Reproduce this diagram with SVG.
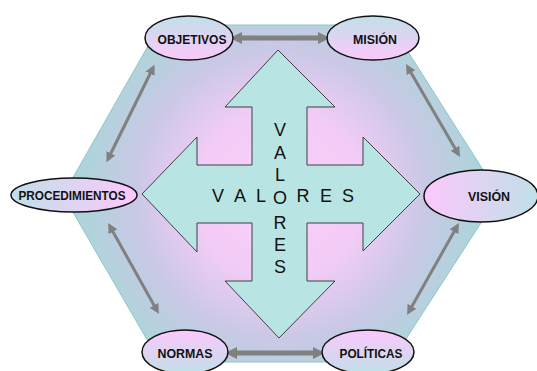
<svg xmlns="http://www.w3.org/2000/svg" width="537" height="371" viewBox="0 0 537 371">
<defs>
<radialGradient id="hexg" cx="280" cy="194" r="240" gradientUnits="userSpaceOnUse">
<stop offset="0" stop-color="#fad0fa"/>
<stop offset="0.35" stop-color="#f2ccf6"/>
<stop offset="0.6" stop-color="#cac8e6"/>
<stop offset="0.82" stop-color="#aed4da"/>
<stop offset="1" stop-color="#98d0d0"/>
</radialGradient>
<linearGradient id="gDown" x1="0" y1="0" x2="0" y2="1"><stop offset="0" stop-color="#c0e0e8"/><stop offset="1" stop-color="#fcc8fc"/></linearGradient>
<linearGradient id="gUp" x1="0" y1="1" x2="0" y2="0"><stop offset="0" stop-color="#c0e0e8"/><stop offset="1" stop-color="#fcc8fc"/></linearGradient>
<linearGradient id="gRight" x1="0" y1="0" x2="1" y2="0"><stop offset="0" stop-color="#c0e0e8"/><stop offset="1" stop-color="#fcc8fc"/></linearGradient>
<linearGradient id="gLeft" x1="1" y1="0" x2="0" y2="0"><stop offset="0" stop-color="#c0e0e8"/><stop offset="1" stop-color="#fcc8fc"/></linearGradient>
<marker id="ahBig" markerUnits="userSpaceOnUse" markerWidth="14" markerHeight="14" refX="2" refY="7" orient="auto-start-reverse" viewBox="0 0 14 14">
<path d="M0,1 L12,7 L0,13 Z" fill="#808080"/>
</marker>
<marker id="ahSmall" markerUnits="userSpaceOnUse" markerWidth="12" markerHeight="12" refX="2" refY="6" orient="auto-start-reverse" viewBox="0 0 12 12">
<path d="M0,1 L10,6 L0,11 Z" fill="#808080"/>
</marker>
</defs>
<style>
.node ellipse{stroke:#111;stroke-width:1.5}
.lbl{font-family:"Liberation Sans",Arial,sans-serif;font-weight:bold;font-size:12px;fill:#111;text-anchor:middle}
.big{font-family:"Liberation Sans",Arial,sans-serif;font-size:18px;fill:#111;text-anchor:middle}
.ch{stroke:#808080;stroke-width:5;fill:none;marker-start:url(#ahBig);marker-end:url(#ahBig)}
.cd{stroke:#808080;stroke-width:3;fill:none;marker-start:url(#ahSmall);marker-end:url(#ahSmall)}
</style>
<rect width="537" height="371" fill="#ffffff"/>
<g id="hexagon">
<polygon points="160,25 391,25 499,195 391,362 160,362 63,195" fill="url(#hexg)" stroke="#8cc6c6" stroke-width="1"/>
</g>
<g id="cross">
<polygon points="278,50 335,107 307,107 307,165 363,165 363,137 420,194 363,251 363,223 307,223 307,281 335,281 279,338 225,281 252,281 252,223 197,223 197,252 142,194 197,137 197,165 252,165 252,107 225,107" fill="#b8e4e4" stroke="#404040" stroke-width="1"/>
<text class="big" x="280" y="136">V</text>
<text class="big" x="280" y="159">A</text>
<text class="big" x="280" y="181">L</text>
<text class="big" x="280" y="204">O</text>
<text class="big" x="280" y="229">R</text>
<text class="big" x="280" y="251">E</text>
<text class="big" x="280" y="273">S</text>
<text class="big" x="218" y="202">V</text>
<text class="big" x="240" y="202">A</text>
<text class="big" x="261" y="202">L</text>
<text class="big" x="303" y="202">R</text>
<text class="big" x="326" y="202">E</text>
<text class="big" x="348" y="202">S</text>
</g>
<g id="connectors">
<line class="ch" x1="240" y1="38" x2="320" y2="38"/>
<line class="ch" x1="235" y1="353" x2="315" y2="353"/>
<line class="cd" x1="151" y1="72" x2="110" y2="155"/>
<line class="cd" x1="410" y1="71" x2="456" y2="150"/>
<line class="cd" x1="112" y1="230" x2="155" y2="307"/>
<line class="cd" x1="455" y1="230" x2="411" y2="308"/>
</g>
<g id="objetivos" class="node">
<ellipse cx="189" cy="38" rx="44" ry="22" fill="url(#gDown)"/>
<text class="lbl" x="192" y="44" textLength="69" lengthAdjust="spacingAndGlyphs">OBJETIVOS</text>
</g>
<g id="mision" class="node">
<ellipse cx="373" cy="38" rx="46" ry="22" fill="url(#gDown)"/>
<text class="lbl" x="375" y="44" textLength="44" lengthAdjust="spacingAndGlyphs">MISIÓN</text>
</g>
<g id="procedimientos" class="node">
<ellipse cx="74" cy="195" rx="63" ry="17" fill="url(#gRight)"/>
<text class="lbl" x="72" y="200" textLength="107" lengthAdjust="spacingAndGlyphs">PROCEDIMIENTOS</text>
</g>
<g id="vision" class="node">
<ellipse cx="481" cy="196" rx="57" ry="26" fill="url(#gLeft)"/>
<text class="lbl" x="489" y="201" textLength="42" lengthAdjust="spacingAndGlyphs">VISIÓN</text>
</g>
<g id="normas" class="node">
<ellipse cx="185" cy="352" rx="43" ry="22" fill="url(#gUp)"/>
<text class="lbl" x="185" y="358" textLength="55" lengthAdjust="spacingAndGlyphs">NORMAS</text>
</g>
<g id="politicas" class="node">
<ellipse cx="368" cy="352" rx="46" ry="22" fill="url(#gUp)"/>
<text class="lbl" x="371" y="358" textLength="63" lengthAdjust="spacingAndGlyphs">POLÍTICAS</text>
</g>
</svg>
